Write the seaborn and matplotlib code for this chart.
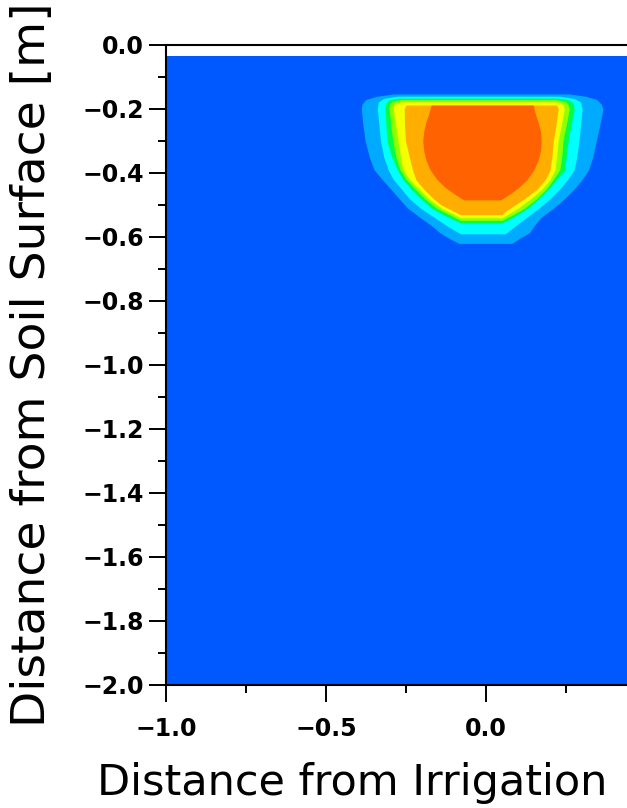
import matplotlib
matplotlib.use("Agg")
import matplotlib.pyplot as plt
import seaborn as sns
import numpy as np

# Soil moisture plume under the irrigation source.
# Each band is given by its outer edge: depth below surface [m] and the
# left / right horizontal distance [m].
soil_depth = [0.035, 2.0]
soil_left = [-1.0, -1.0]
soil_right = [0.44, 0.44]

lb_depth = [0.153, 0.160, 0.170, 0.185, 0.20, 0.25, 0.30, 0.35, 0.39, 0.42, 0.45, 0.48, 0.51, 0.54, 0.565, 0.587, 0.603, 0.615, 0.62]
lb_left = [-0.29, -0.34, -0.375, -0.388, -0.39, -0.385, -0.378, -0.365, -0.35, -0.325, -0.298, -0.272, -0.245, -0.205, -0.17, -0.144, -0.118, -0.095, -0.085]
lb_right = [0.26, 0.31, 0.345, 0.36, 0.365, 0.355, 0.344, 0.333, 0.32, 0.30, 0.275, 0.245, 0.21, 0.17, 0.15, 0.135, 0.106, 0.088, 0.08]

cy_depth = [0.160, 0.167, 0.178, 0.20, 0.25, 0.30, 0.35, 0.39, 0.42, 0.45, 0.48, 0.51, 0.54, 0.57, 0.59]
cy_left = [-0.28, -0.32, -0.337, -0.34, -0.335, -0.33, -0.32, -0.306, -0.29, -0.265, -0.24, -0.205, -0.16, -0.115, -0.08]
cy_right = [0.23, 0.275, 0.295, 0.30, 0.295, 0.29, 0.283, 0.275, 0.255, 0.23, 0.20, 0.165, 0.125, 0.085, 0.06]

gr_depth = [0.166, 0.172, 0.182, 0.20, 0.25, 0.30, 0.35, 0.39, 0.42, 0.45, 0.48, 0.51, 0.535, 0.556]
gr_left = [-0.275, -0.305, -0.314, -0.316, -0.313, -0.31, -0.295, -0.278, -0.26, -0.235, -0.205, -0.17, -0.125, -0.08]
gr_right = [0.225, 0.26, 0.272, 0.275, 0.265, 0.256, 0.25, 0.245, 0.22, 0.195, 0.165, 0.13, 0.09, 0.05]

li_depth = [0.171, 0.177, 0.186, 0.20, 0.25, 0.30, 0.35, 0.39, 0.42, 0.45, 0.48, 0.51, 0.53, 0.548]
li_left = [-0.27, -0.295, -0.302, -0.303, -0.298, -0.292, -0.282, -0.269, -0.25, -0.222, -0.192, -0.155, -0.115, -0.08]
li_right = [0.22, 0.248, 0.256, 0.26, 0.25, 0.24, 0.236, 0.23, 0.21, 0.188, 0.158, 0.12, 0.085, 0.05]

ye_depth = [0.177, 0.182, 0.19, 0.20, 0.25, 0.30, 0.35, 0.39, 0.42, 0.45, 0.48, 0.51, 0.54]
ye_left = [-0.265, -0.283, -0.288, -0.29, -0.283, -0.275, -0.268, -0.26, -0.24, -0.21, -0.18, -0.14, -0.08]
ye_right = [0.215, 0.235, 0.242, 0.244, 0.235, 0.225, 0.22, 0.215, 0.20, 0.175, 0.14, 0.10, 0.05]

or_depth = [0.1875, 0.20, 0.25, 0.30, 0.35, 0.39, 0.42, 0.45, 0.48, 0.50, 0.52, 0.53]
or_left = [-0.25, -0.256, -0.255, -0.252, -0.24, -0.23, -0.22, -0.195, -0.165, -0.14, -0.10, -0.08]
or_right = [0.22, 0.225, 0.218, 0.21, 0.205, 0.20, 0.185, 0.16, 0.12, 0.09, 0.06, 0.05]

red_depth = [0.1875, 0.21, 0.24, 0.27, 0.30, 0.33, 0.36, 0.39, 0.42, 0.445, 0.465, 0.478, 0.484]
red_left = [-0.172, -0.178, -0.188, -0.195, -0.198, -0.195, -0.188, -0.175, -0.154, -0.128, -0.10, -0.08, -0.07]
red_right = [0.147, 0.152, 0.162, 0.170, 0.172, 0.170, 0.162, 0.149, 0.128, 0.102, 0.075, 0.055, 0.045]

band_colors = ["#0058FF", "#00AAFF", "#00FFFF", "#00FF48", "#90FF00",
               "#F4FF00", "#FFAE00", "#FF6200"]

x_ticks = [-1.0, -0.5, 0.0]
x_minor = [-0.75, -0.25, 0.25]
y_ticks = [0.0, -0.2, -0.4, -0.6, -0.8, -1.0, -1.2, -1.4, -1.6, -1.8, -2.0]
y_minor = [-0.1, -0.3, -0.5, -0.7, -0.9, -1.1, -1.3, -1.5, -1.7, -1.9]

sns.set_style("ticks")
plt.rcParams["font.family"] = ["DejaVu Sans"]

fig = plt.figure(figsize=(6.27, 8.08), dpi=100)
ax = fig.add_axes([166 / 627, 123 / 808, 461 / 627, 640 / 808])

bands = [
    (soil_depth, soil_left, soil_right),
    (lb_depth, lb_left, lb_right),
    (cy_depth, cy_left, cy_right),
    (gr_depth, gr_left, gr_right),
    (li_depth, li_left, li_right),
    (ye_depth, ye_left, ye_right),
    (or_depth, or_left, or_right),
    (red_depth, red_left, red_right),
]
for (depth, left, right), color in zip(bands, band_colors):
    ax.fill_betweenx(-np.array(depth), left, right, color=color, lw=0)

ax.set_xlim(-1.0, 0.44)
ax.set_ylim(-2.0, 0.0)
ax.set_xticks(x_ticks)
ax.set_xticks(x_minor, minor=True)
ax.set_yticks(y_ticks)
ax.set_yticks(y_minor, minor=True)

for side in ["left", "bottom", "top"]:
    ax.spines[side].set_linewidth(1.5)
    ax.spines[side].set_color("black")
ax.spines["right"].set_visible(False)

ax.tick_params(which="major", length=12, width=1.4, color="black",
               labelsize=17, labelcolor="black")
ax.tick_params(which="minor", length=6, width=1.4, color="black")
ax.tick_params(axis="x", which="major", pad=11)
ax.tick_params(axis="y", which="major", pad=4)
for lab in ax.get_xticklabels() + ax.get_yticklabels():
    lab.set_fontweight("bold")

ax.set_ylabel("Distance from Soil Surface [m]", fontsize=34, color="black")
ax.yaxis.set_label_coords(-0.24, 0.5)
ax.set_xlabel("Distance from Irrigation", fontsize=31, color="black")
ax.xaxis.set_label_coords(0.404, -0.12)

fig.savefig("out.png", dpi=100)
